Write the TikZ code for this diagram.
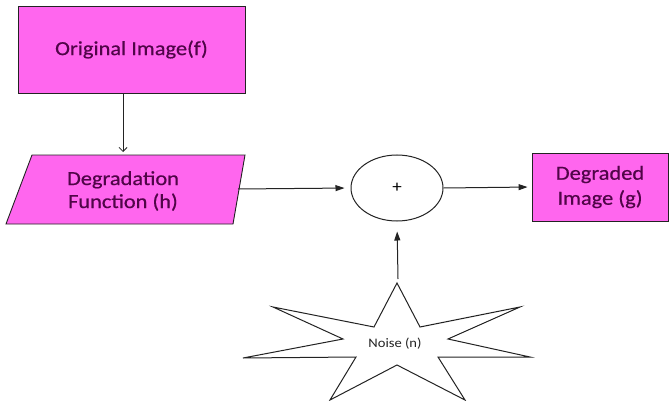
\documentclass[tikz,border=0pt]{standalone}
\usepackage{fontspec}
\setmainfont{Carlito}[FakeStretch=1.12,FakeBold=0.5]
\newfontfamily\plainfont{Carlito}[FakeStretch=1.12]
\usetikzlibrary{shapes.geometric,arrows.meta}
\definecolor{boxfill}{RGB}{255,102,238}
\definecolor{boxtext}{RGB}{80,5,72}
\definecolor{linecol}{RGB}{35,35,35}
\tikzset{
  pinkbox/.style={draw=linecol, line width=0.9pt, fill=boxfill, text=boxtext, align=center, inner sep=0pt,
    font=\fontsize{20}{25}\selectfont},
  farr/.style={draw=linecol, line width=1pt, -{Triangle[length=9pt,width=6pt]}},
  oarr/.style={draw=linecol, line width=0.8pt, -{Straight Barb[length=4pt,width=8pt]}},
  outline/.style={draw=linecol, line width=1pt, fill=white}
}
\begin{document}
\begin{tikzpicture}[x=1pt,y=-1pt]
\useasboundingbox[fill=white] (0,0) rectangle (669,401);
% original image
\node[pinkbox, minimum width=227pt, minimum height=87pt] (orig) at (131.5,49.5) {Original Image(f)};
% degradation function (parallelogram)
\draw[draw=linecol, line width=0.9pt, fill=boxfill] (32,155) -- (245,155) -- (233,224) -- (6,224) -- cycle;
\node[text=boxtext, align=center, font=\fontsize{20}{23}\selectfont] (deg) at (123,191) {Degradation\\Function (h)};
\coordinate (degR) at (238,189);
\coordinate (degT) at (123,152);
% sum
\node[outline, ellipse, minimum width=92pt, minimum height=66pt, inner sep=0pt, font=\plainfont\fontsize{17}{18}\selectfont] (sum) at (397,188) {+};
% degraded image
\node[pinkbox, minimum width=136pt, minimum height=68pt] (out) at (600,187) {Degraded\\Image (g)};
% noise star
\draw[outline, line width=1pt] (397,283) -- (420,327) -- (520,307) -- (448,339) -- (530,357) -- (438,357) -- (465,400) -- (397,365) -- (330,400) -- (356,357) -- (243,358) -- (343,339) -- (273,307) -- (374,327) -- cycle;
\node[text=linecol, font=\plainfont\fontsize{13}{15}\selectfont] (noise) at (395,344) {Noise (n)};
\coordinate (starT) at (398,279);
% connectors
\draw[oarr] (orig.south -| degT) -- (degT);
\draw[farr, shorten >=6pt] (degR) -- (sum.west);
\draw[farr, shorten >=4pt] (sum.east) -- (out.west);
\draw[farr, shorten >=10pt] (starT) -- (sum.south);
\end{tikzpicture}
\end{document}
